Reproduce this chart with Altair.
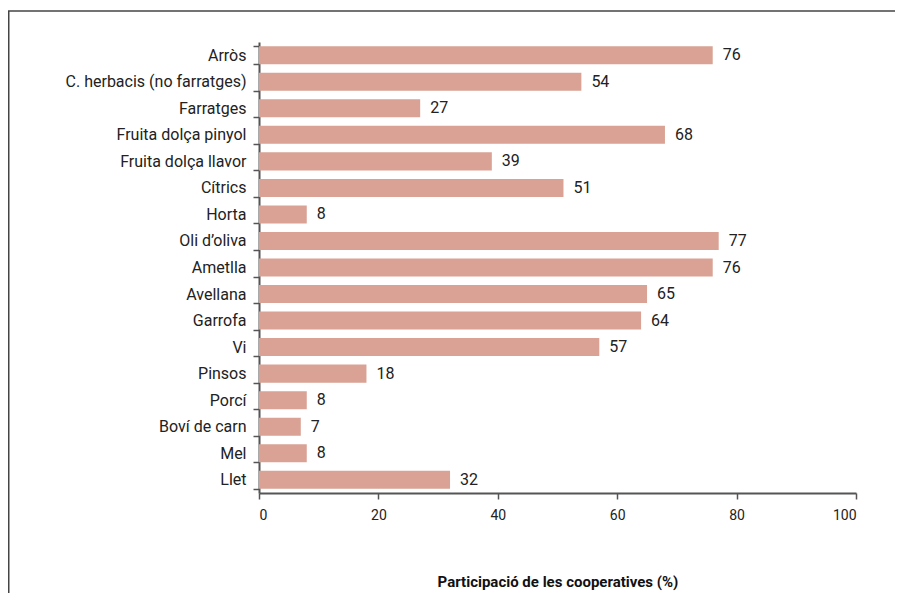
import altair as alt
import pandas as pd

categories = ["Arròs", "C. herbacis (no farratges)", "Farratges", "Fruita dolça pinyol",
              "Fruita dolça llavor", "Cítrics", "Horta", "Oli d’oliva", "Ametlla",
              "Avellana", "Garrofa", "Vi", "Pinsos", "Porcí", "Boví de carn", "Mel", "Llet"]
values = [76, 54, 27, 68, 39, 51, 8, 77, 76, 65, 64, 57, 18, 8, 7, 8, 32]
x_ticks = [0, 20, 40, 60, 80, 100]

df = pd.DataFrame({"cat": categories, "val": values})
FONT = "Roboto, Liberation Sans, sans-serif"
W, H = 597, 451

base = alt.Chart(df)
one = base.transform_filter(alt.datum.cat == "Arròs")

frame_top = one.mark_rule(color="#444444", strokeWidth=1.5).encode(
    x=alt.value(-251), x2=alt.value(W + 60), y=alt.value(-31)
)
frame_left = one.mark_rule(color="#444444", strokeWidth=1.5).encode(
    x=alt.value(-250.25), y=alt.value(-31), y2=alt.value(H + 200)
)

bars = base.mark_bar(color="#D9A294").encode(
    y=alt.Y("cat:N", sort=categories,
            scale=alt.Scale(paddingInner=0.32, paddingOuter=0.16),
            axis=alt.Axis(title=None, labelFont=FONT, labelFontSize=16, labelColor="#222222",
                          labelPadding=7, labelLimit=260, tickBand="extent", tickSize=6,
                          tickColor="#555555", tickWidth=1.5, domainColor="#555555",
                          domainWidth=2)),
    x=alt.X("val:Q", scale=alt.Scale(domain=[0, 100], nice=False),
            axis=alt.Axis(values=x_ticks, title="Participació de les cooperatives (%)",
                          grid=False, labelFont=FONT, labelFontSize=14, labelColor="#222222",
                          labelPadding=9, tickSize=6, tickColor="#555555", tickWidth=1.5,
                          domainColor="#555555", domainWidth=2, titleFont=FONT,
                          titleFontSize=15, titleFontWeight="bold", titleColor="#111111",
                          titlePadding=52)),
)

labels = base.mark_text(align="left", baseline="middle", dx=10, font=FONT, fontSize=16,
                        color="#222222").encode(
    y=alt.Y("cat:N", sort=categories),
    x=alt.X("val:Q"),
    text=alt.Text("val:Q"),
)

chart = alt.layer(frame_top, frame_left, bars, labels).properties(
    width=W, height=H,
    autosize=alt.AutoSizeParams(type="none"),
    padding={"left": 251, "top": 34, "right": 39, "bottom": 100},
).configure(background="white").configure_view(stroke=None)

chart.save("out.html", embed_options={"renderer": "svg", "actions": False})
